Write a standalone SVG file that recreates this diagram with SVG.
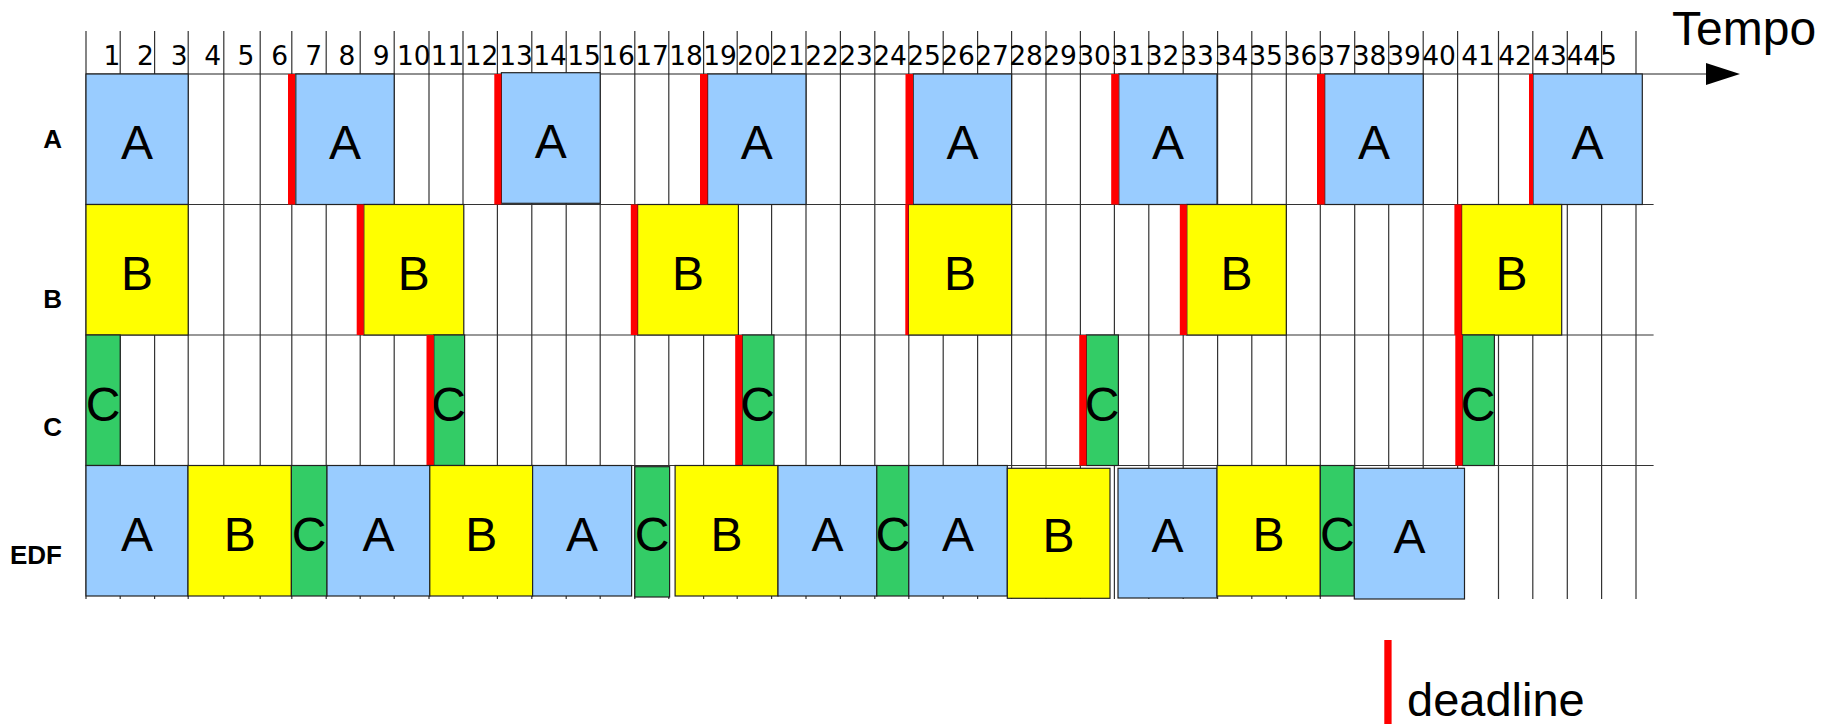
<svg xmlns="http://www.w3.org/2000/svg" width="1835" height="724" viewBox="0 0 1835 724">
<style>
.bg{fill:#ffffff}
.grid line{stroke:#333;stroke-width:1.2}
.a{fill:#99ccff;stroke:#222;stroke-width:1.2}
.b{fill:#ffff00;stroke:#222;stroke-width:1.2}
.c{fill:#33cc66;stroke:#222;stroke-width:1.2}
.dl{fill:#ff0000}
.num{font-family:"DejaVu Sans",sans-serif;font-size:26.5px;fill:#000;text-anchor:middle}
.lt{font-family:"Liberation Sans",Arial,sans-serif;font-size:48px;fill:#000;text-anchor:middle}
.rl{font-family:"Liberation Sans",Arial,sans-serif;font-size:26px;font-weight:bold;fill:#000;text-anchor:end}
.big{font-family:"Liberation Sans",Arial,sans-serif;font-size:48px;fill:#000}
</style>
<rect class="bg" x="0" y="0" width="1835" height="724"/>

<g id="grid" class="grid">
<line x1="86" y1="31" x2="86" y2="599"/>
<line x1="120.2" y1="31" x2="120.2" y2="599"/>
<line x1="154.6" y1="31" x2="154.6" y2="599"/>
<line x1="188.2" y1="31" x2="188.2" y2="599"/>
<line x1="223.8" y1="31" x2="223.8" y2="599"/>
<line x1="260.2" y1="31" x2="260.2" y2="599"/>
<line x1="291.8" y1="31" x2="291.8" y2="599"/>
<line x1="326.2" y1="31" x2="326.2" y2="599"/>
<line x1="360.2" y1="31" x2="360.2" y2="599"/>
<line x1="394.2" y1="31" x2="394.2" y2="599"/>
<line x1="429" y1="31" x2="429" y2="599"/>
<line x1="463" y1="31" x2="463" y2="599"/>
<line x1="497.4" y1="31" x2="497.4" y2="599"/>
<line x1="531.8" y1="31" x2="531.8" y2="599"/>
<line x1="566.2" y1="31" x2="566.2" y2="599"/>
<line x1="600.2" y1="31" x2="600.2" y2="599"/>
<line x1="634.8" y1="31" x2="634.8" y2="599"/>
<line x1="668.8" y1="31" x2="668.8" y2="599"/>
<line x1="703.6" y1="31" x2="703.6" y2="599"/>
<line x1="737.2" y1="31" x2="737.2" y2="599"/>
<line x1="771.6" y1="31" x2="771.6" y2="599"/>
<line x1="806" y1="31" x2="806" y2="599"/>
<line x1="840.4" y1="31" x2="840.4" y2="599"/>
<line x1="874.8" y1="31" x2="874.8" y2="599"/>
<line x1="908.8" y1="31" x2="908.8" y2="599"/>
<line x1="943.2" y1="31" x2="943.2" y2="599"/>
<line x1="977.6" y1="31" x2="977.6" y2="599"/>
<line x1="1011.6" y1="31" x2="1011.6" y2="599"/>
<line x1="1046" y1="31" x2="1046" y2="599"/>
<line x1="1080.4" y1="31" x2="1080.4" y2="599"/>
<line x1="1114.4" y1="31" x2="1114.4" y2="599"/>
<line x1="1148.8" y1="31" x2="1148.8" y2="599"/>
<line x1="1183.2" y1="31" x2="1183.2" y2="599"/>
<line x1="1217.6" y1="31" x2="1217.6" y2="599"/>
<line x1="1251.8" y1="31" x2="1251.8" y2="599"/>
<line x1="1286.3" y1="31" x2="1286.3" y2="599"/>
<line x1="1320.3" y1="31" x2="1320.3" y2="599"/>
<line x1="1354.7" y1="31" x2="1354.7" y2="599"/>
<line x1="1388.7" y1="31" x2="1388.7" y2="599"/>
<line x1="1423.2" y1="31" x2="1423.2" y2="599"/>
<line x1="1457.6" y1="31" x2="1457.6" y2="599"/>
<line x1="1498.5" y1="31" x2="1498.5" y2="599"/>
<line x1="1532.8" y1="31" x2="1532.8" y2="599"/>
<line x1="1567.3" y1="31" x2="1567.3" y2="599"/>
<line x1="1601.6" y1="31" x2="1601.6" y2="599"/>
<line x1="1636" y1="31" x2="1636" y2="599"/>
<line x1="86" y1="204.5" x2="1653.6" y2="204.5"/>
<line x1="86" y1="335" x2="1653.6" y2="335"/>
<line x1="86" y1="465.5" x2="1653.6" y2="465.5"/>
</g>

<g id="numbers">
<text class="num" x="112" y="65">1</text>
<text class="num" x="145.5" y="65">2</text>
<text class="num" x="179.3" y="65">3</text>
<text class="num" x="212.7" y="65">4</text>
<text class="num" x="246" y="65">5</text>
<text class="num" x="279.7" y="65">6</text>
<text class="num" x="313.8" y="65">7</text>
<text class="num" x="347" y="65">8</text>
<text class="num" x="381.2" y="65">9</text>
<text class="num" x="413.8" y="65">10</text>
<text class="num" x="447.5" y="65">11</text>
<text class="num" x="481.5" y="65">12</text>
<text class="num" x="516" y="65">13</text>
<text class="num" x="550" y="65">14</text>
<text class="num" x="584" y="65">15</text>
<text class="num" x="618" y="65">16</text>
<text class="num" x="652" y="65">17</text>
<text class="num" x="686" y="65">18</text>
<text class="num" x="720" y="65">19</text>
<text class="num" x="754" y="65">20</text>
<text class="num" x="788" y="65">21</text>
<text class="num" x="822" y="65">22</text>
<text class="num" x="856" y="65">23</text>
<text class="num" x="890" y="65">24</text>
<text class="num" x="924" y="65">25</text>
<text class="num" x="958" y="65">26</text>
<text class="num" x="992" y="65">27</text>
<text class="num" x="1026" y="65">28</text>
<text class="num" x="1060" y="65">29</text>
<text class="num" x="1094" y="65">30</text>
<text class="num" x="1128" y="65">31</text>
<text class="num" x="1162.5" y="65">32</text>
<text class="num" x="1197" y="65">33</text>
<text class="num" x="1231.5" y="65">34</text>
<text class="num" x="1266" y="65">35</text>
<text class="num" x="1300.5" y="65">36</text>
<text class="num" x="1335" y="65">37</text>
<text class="num" x="1369.5" y="65">38</text>
<text class="num" x="1404" y="65">39</text>
<text class="num" x="1439" y="65">40</text>
<text class="num" x="1478" y="65">41</text>
<text class="num" x="1515" y="65">42</text>
<text class="num" x="1550" y="65">43</text>
<text class="num" x="1583.5" y="65">44</text>
<text class="num" x="1600" y="65">45</text>
</g>

<g id="connectors">
<line x1="86" y1="74" x2="1708" y2="74" stroke="#222" stroke-width="1.2"/>
<polygon points="1706,63 1740,74 1706,85" fill="#000"/>
</g>

<g id="row-labels">
<text class="rl" x="62" y="148">A</text>
<text class="rl" x="62" y="307.5">B</text>
<text class="rl" x="62" y="435.5">C</text>
<text class="rl" x="62" y="563.5">EDF</text>
</g>

<g id="task-A">
<g id="A1"><rect class="a" x="86" y="74" width="102.2" height="130.5"/><text class="lt" x="137.1" y="159">A</text></g>
<g id="A2"><rect class="a" x="295.8" y="74" width="98.4" height="130.5"/><text class="lt" x="345" y="159">A</text></g>
<g id="A3"><rect class="a" x="501.4" y="72.7" width="98.8" height="130.6"/><text class="lt" x="550.8" y="158">A</text></g>
<g id="A4"><rect class="a" x="707.6" y="74" width="98.4" height="130.5"/><text class="lt" x="756.8" y="159">A</text></g>
<g id="A5"><rect class="a" x="913.2" y="74" width="98.4" height="130.5"/><text class="lt" x="962.4" y="159">A</text></g>
<g id="A6"><rect class="a" x="1118.8" y="74" width="98.2" height="130.5"/><text class="lt" x="1167.9" y="159">A</text></g>
<g id="A7"><rect class="a" x="1324.7" y="74" width="98.5" height="130.5"/><text class="lt" x="1374" y="159">A</text></g>
<g id="A8"><rect class="a" x="1533" y="74" width="109.3" height="130.5"/><text class="lt" x="1587.6" y="159">A</text></g>
</g>

<g id="task-B">
<g id="B1"><rect class="b" x="86" y="204.5" width="102.2" height="130.5"/><text class="lt" x="137.1" y="289.5">B</text></g>
<g id="B2"><rect class="b" x="363.8" y="204.5" width="100" height="130.5"/><text class="lt" x="413.8" y="289.5">B</text></g>
<g id="B3"><rect class="b" x="637.6" y="204.5" width="100.8" height="130.5"/><text class="lt" x="688" y="289.5">B</text></g>
<g id="B4"><rect class="b" x="908.4" y="204.5" width="103.2" height="130.5"/><text class="lt" x="960" y="289.5">B</text></g>
<g id="B5"><rect class="b" x="1186.8" y="204.5" width="99.5" height="130.5"/><text class="lt" x="1236.5" y="289.5">B</text></g>
<g id="B6"><rect class="b" x="1461.6" y="204.5" width="100.1" height="130.5"/><text class="lt" x="1511.6" y="289.5">B</text></g>
</g>

<g id="task-C">
<g id="C1"><rect class="c" x="86" y="335" width="34.2" height="130.5"/><text class="lt" x="103.1" y="420.5">C</text></g>
<g id="C2"><rect class="c" x="433.8" y="335" width="30.8" height="130.5"/><text class="lt" x="448.5" y="420.5">C</text></g>
<g id="C3"><rect class="c" x="742.3" y="335" width="31.7" height="130.5"/><text class="lt" x="757.5" y="420.5">C</text></g>
<g id="C4"><rect class="c" x="1086.4" y="335" width="32" height="130.5"/><text class="lt" x="1102" y="420.5">C</text></g>
<g id="C5"><rect class="c" x="1462.5" y="335" width="31.9" height="130.5"/><text class="lt" x="1478" y="420.5">C</text></g>
</g>

<g id="deadlines">
<rect class="dl" x="288" y="74" width="7" height="130.5"/>
<rect class="dl" x="494.3" y="74" width="7" height="130.5"/>
<rect class="dl" x="700" y="74" width="7.5" height="130.5"/>
<rect class="dl" x="905.5" y="74" width="7.5" height="130.5"/>
<rect class="dl" x="1111.2" y="74" width="7.5" height="130.5"/>
<rect class="dl" x="1317" y="74" width="7.6" height="130.5"/>
<rect class="dl" x="1529" y="74" width="4" height="130.5"/>
<rect class="dl" x="356.7" y="204.5" width="7" height="130.5"/>
<rect class="dl" x="630.8" y="204.5" width="6.8" height="130.5"/>
<rect class="dl" x="905.3" y="204.5" width="3.2" height="130.5"/>
<rect class="dl" x="1179.8" y="204.5" width="7" height="130.5"/>
<rect class="dl" x="1454.4" y="204.5" width="7.2" height="130.5"/>
<rect class="dl" x="426.5" y="335" width="7.3" height="130.5"/>
<rect class="dl" x="735.2" y="335" width="7.1" height="130.5"/>
<rect class="dl" x="1079.3" y="335" width="7.1" height="130.5"/>
<rect class="dl" x="1455.3" y="335" width="7.2" height="130.5"/>
</g>

<g id="edf">
<g id="E1"><rect class="a" x="86" y="465.5" width="102" height="130.5"/><text class="lt" x="137" y="551">A</text></g>
<g id="E2"><rect class="b" x="188" y="465.5" width="103.4" height="130.5"/><text class="lt" x="239.7" y="551">B</text></g>
<g id="E3"><rect class="c" x="291.4" y="465.5" width="35.6" height="130.5"/><text class="lt" x="309.2" y="551">C</text></g>
<g id="E4"><rect class="a" x="327" y="465.5" width="102.8" height="130.5"/><text class="lt" x="378.4" y="551">A</text></g>
<g id="E5"><rect class="b" x="429.8" y="465.5" width="102.8" height="130.5"/><text class="lt" x="481.2" y="551">B</text></g>
<g id="E6"><rect class="a" x="532.6" y="465.5" width="99" height="130.5"/><text class="lt" x="582.1" y="551">A</text></g>
<g id="E7"><rect class="c" x="634.8" y="466.7" width="34.8" height="130.3"/><text class="lt" x="652.2" y="551">C</text></g>
<g id="E8"><rect class="b" x="675.1" y="465.5" width="102.9" height="130.5"/><text class="lt" x="726.5" y="551">B</text></g>
<g id="E9"><rect class="a" x="778" y="465.5" width="98.8" height="130.5"/><text class="lt" x="827.4" y="551">A</text></g>
<g id="E10"><rect class="c" x="876.8" y="465.5" width="32" height="130.5"/><text class="lt" x="892.8" y="551">C</text></g>
<g id="E11"><rect class="a" x="908.8" y="465.5" width="98.5" height="130.5"/><text class="lt" x="958" y="551">A</text></g>
<g id="E12"><rect class="b" x="1007.3" y="468.3" width="102.7" height="130"/><text class="lt" x="1058.6" y="552">B</text></g>
<g id="E13"><rect class="a" x="1118" y="468.3" width="99" height="129.7"/><text class="lt" x="1167.5" y="552">A</text></g>
<g id="E14"><rect class="b" x="1217" y="465.5" width="103.3" height="130.5"/><text class="lt" x="1268.6" y="551">B</text></g>
<g id="E15"><rect class="c" x="1320.3" y="465.5" width="34" height="130.5"/><text class="lt" x="1337.3" y="551">C</text></g>
<g id="E16"><rect class="a" x="1354.3" y="468.3" width="110.2" height="130.7"/><text class="lt" x="1409.4" y="553">A</text></g>
</g>

<g id="title">
<text class="big" x="1672" y="45">Tempo</text>
</g>

<g id="legend">
<rect class="dl" x="1384.3" y="640" width="7.3" height="84"/>
<text class="big" x="1407" y="716" style="font-size:47px">deadline</text>
</g>
</svg>
